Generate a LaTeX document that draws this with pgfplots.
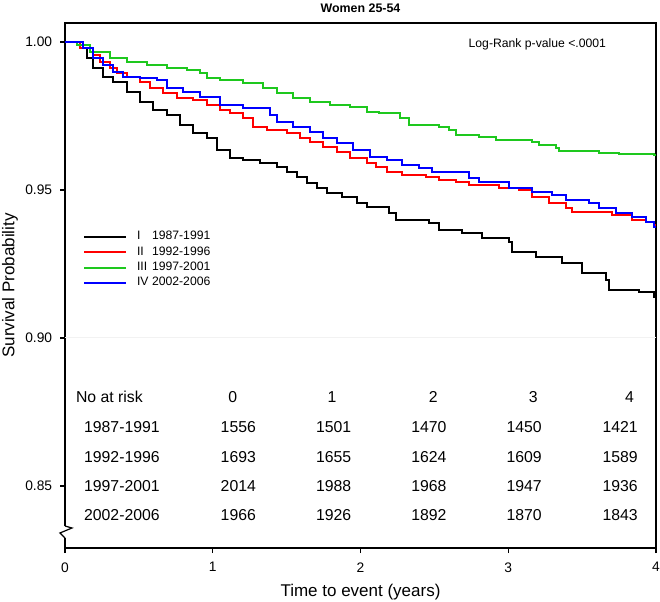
\documentclass[border=0pt]{standalone}
\usepackage{fontspec}
\setmainfont{Liberation Sans}
\usepackage{pgfplots}
\pgfplotsset{compat=1.18}
\definecolor{kmgreen}{RGB}{30,200,30}
\definecolor{kmred}{RGB}{255,0,0}
\definecolor{kmblue}{RGB}{0,0,255}
\newcommand\rt{\fontsize{7.9}{9}\selectfont}
\newcommand\lf{\fontsize{6.1}{7}\selectfont}
\begin{document}
\begin{tikzpicture}
\begin{axis}[
  scale only axis, width=295.5pt, height=262.5pt,
  xmin=0, xmax=4, ymin=0.82905, ymax=1.00642,
  xtick={0,1,2,3,4}, ytick={0.85,0.9,0.95,1},
  xtick pos=bottom, ytick pos=left,
  tick align=outside, major tick length=2.5pt,
  axis line style={line width=0.6pt},
  every tick/.style={black, line width=0.6pt},
  /pgf/number format/assume math mode=true,
  yticklabel={\pgfmathprintnumber[fixed,fixed zerofill,precision=2]{\tick}},
  tick label style={font=\fontsize{6.9}{8}\selectfont},
  yticklabel style={xshift=-0.4pt},
  xticklabel style={yshift=-1.2pt},
  xlabel={Time to event (years)}, ylabel={Survival Probability},
  label style={font=\fontsize{8.5}{10}\selectfont},
  xlabel style={at={(axis description cs:0.5,-0.0838)}, anchor=center},
  ylabel style={at={(axis description cs:-0.093,0.5)}, anchor=center},
  clip=false,
  legend style={at={(0.0305,0.607)}, anchor=north west, draw=none, fill=none,
    inner sep=0pt, outer sep=0pt, row sep=0pt, font=\lf,
    nodes={inner sep=0pt, minimum height=7.65pt},
    /tikz/every odd column/.append style={column sep=5pt}},
  legend cell align=left,
  legend image code/.code={\draw[#1] (0pt,0pt) -- (21pt,0pt);},
]
\draw[black!5, line width=0.5pt] (axis cs:0,0.9) -- (axis cs:4,0.9);

\addplot[const plot, black, line width=1pt] coordinates {
(0,1.0) (0.101,0.9980) (0.149,0.9946) (0.189,0.9912) (0.257,0.9882) (0.324,0.9865)
(0.419,0.9831) (0.507,0.9797) (0.595,0.9770) (0.689,0.9753) (0.777,0.9720) (0.865,0.9693)
(0.959,0.9676) (1.027,0.9635) (1.115,0.9608) (1.203,0.9601) (1.318,0.9591) (1.432,0.9578)
(1.500,0.9561) (1.568,0.9544) (1.635,0.9524) (1.703,0.9507) (1.770,0.9490) (1.878,0.9476)
(1.973,0.9456) (2.041,0.9443) (2.196,0.9422) (2.243,0.9399) (2.466,0.9389) (2.534,0.9365)
(2.689,0.9355) (2.824,0.9338) (3.007,0.9324) (3.027,0.9291) (3.189,0.9274) (3.365,0.9253)
(3.500,0.9220) (3.662,0.9196) (3.682,0.9162) (3.885,0.9155) (3.986,0.9139) (4.0,0.9139)
};
\addlegendentry{\makebox[7.5pt][l]{I}1987-1991}

\addplot[const plot, kmred, line width=1pt] coordinates {
(0,1.0) (0.101,0.9980) (0.189,0.9956) (0.236,0.9932) (0.304,0.9912) (0.351,0.9895)
(0.419,0.9882) (0.507,0.9865) (0.574,0.9845) (0.662,0.9828) (0.757,0.9811) (0.865,0.9804)
(0.959,0.9787) (1.047,0.9770) (1.115,0.9760) (1.203,0.9743) (1.270,0.9713) (1.365,0.9703)
(1.500,0.9693) (1.588,0.9676) (1.655,0.9662) (1.743,0.9645) (1.838,0.9628) (1.926,0.9608)
(2.041,0.9591) (2.108,0.9578) (2.176,0.9561) (2.284,0.9551) (2.446,0.9544) (2.534,0.9534)
(2.649,0.9527) (2.736,0.9517) (2.939,0.9507) (3.074,0.9500) (3.162,0.9476) (3.277,0.9456)
(3.392,0.9439) (3.432,0.9426) (3.703,0.9416) (3.838,0.9399) (3.932,0.9392) (3.986,0.9382)
(4.0,0.9382)
};
\addlegendentry{\makebox[7.5pt][l]{II}1992-1996}

\addplot[const plot, kmgreen, line width=1pt] coordinates {
(0,1.0) (0.081,0.9990) (0.169,0.9966) (0.304,0.9946) (0.419,0.9932) (0.554,0.9922)
(0.689,0.9912) (0.824,0.9905) (0.912,0.9895) (0.959,0.9878) (1.047,0.9872) (1.203,0.9861)
(1.338,0.9845) (1.432,0.9828) (1.541,0.9811) (1.655,0.9797) (1.791,0.9787) (1.926,0.9780)
(2.041,0.9764) (2.128,0.9760) (2.264,0.9743) (2.331,0.9720) (2.534,0.9713) (2.601,0.9703)
(2.649,0.9686) (2.804,0.9679) (2.919,0.9669) (3.162,0.9662) (3.209,0.9652) (3.324,0.9642)
(3.345,0.9632) (3.615,0.9625) (3.750,0.9622) (3.986,0.9618) (4.0,0.9618)
};
\addlegendentry{\makebox[7.5pt][l]{III}1997-2001}

\addplot[const plot, kmblue, line width=1pt] coordinates {
(0,1.0) (0.122,0.9980) (0.189,0.9946) (0.257,0.9922) (0.324,0.9899) (0.392,0.9882)
(0.507,0.9878) (0.622,0.9872) (0.689,0.9845) (0.797,0.9831) (0.912,0.9814) (1.047,0.9787)
(1.203,0.9777) (1.385,0.9753) (1.432,0.9730) (1.541,0.9713) (1.655,0.9696) (1.743,0.9676)
(1.838,0.9659) (1.946,0.9635) (2.061,0.9612) (2.176,0.9601) (2.284,0.9585) (2.399,0.9574)
(2.486,0.9561) (2.736,0.9541) (2.804,0.9527) (3.007,0.9507) (3.162,0.9493) (3.297,0.9483)
(3.392,0.9466) (3.547,0.9456) (3.615,0.9439) (3.730,0.9422) (3.838,0.9409) (3.932,0.9392)
(3.986,0.9375) (4.0,0.9375)
};
\addlegendentry{\makebox[7.5pt][l]{IV}2002-2006}

\node[font=\bfseries\fontsize{6.2}{7.5}\selectfont] at (rel axis cs:0.5,1.0286) {Women 25-54};
\node[font=\lf] at (rel axis cs:0.7992,0.96) {Log-Rank p-value <.0001};

% number at risk table
\node[font=\rt, anchor=west] at (axis cs:0.027,0.8801) {No at risk};
\node[font=\rt] at (axis cs:1.135,0.8801) {0};
\node[font=\rt] at (axis cs:1.807,0.8801) {1};
\node[font=\rt] at (axis cs:2.493,0.8801) {2};
\node[font=\rt] at (axis cs:3.170,0.8801) {3};
\node[font=\rt] at (axis cs:3.820,0.8801) {4};

\node[font=\rt] at (axis cs:0.385,0.8699) {1987-1991};
\node[font=\rt] at (axis cs:1.173,0.8699) {1556};
\node[font=\rt] at (axis cs:1.818,0.8699) {1501};
\node[font=\rt] at (axis cs:2.463,0.8699) {1470};
\node[font=\rt] at (axis cs:3.108,0.8699) {1450};
\node[font=\rt] at (axis cs:3.757,0.8699) {1421};

\node[font=\rt] at (axis cs:0.385,0.8598) {1992-1996};
\node[font=\rt] at (axis cs:1.173,0.8598) {1693};
\node[font=\rt] at (axis cs:1.818,0.8598) {1655};
\node[font=\rt] at (axis cs:2.463,0.8598) {1624};
\node[font=\rt] at (axis cs:3.108,0.8598) {1609};
\node[font=\rt] at (axis cs:3.757,0.8598) {1589};

\node[font=\rt] at (axis cs:0.385,0.8500) {1997-2001};
\node[font=\rt] at (axis cs:1.173,0.8500) {2014};
\node[font=\rt] at (axis cs:1.818,0.8500) {1988};
\node[font=\rt] at (axis cs:2.463,0.8500) {1968};
\node[font=\rt] at (axis cs:3.108,0.8500) {1947};
\node[font=\rt] at (axis cs:3.757,0.8500) {1936};

\node[font=\rt] at (axis cs:0.385,0.8402) {2002-2006};
\node[font=\rt] at (axis cs:1.173,0.8402) {1966};
\node[font=\rt] at (axis cs:1.818,0.8402) {1926};
\node[font=\rt] at (axis cs:2.463,0.8402) {1892};
\node[font=\rt] at (axis cs:3.108,0.8402) {1870};
\node[font=\rt] at (axis cs:3.757,0.8402) {1843};

\coordinate (z0) at (rel axis cs:0,0.0419);
\coordinate (z1) at (rel axis cs:0.0118,0.0381);
\coordinate (z2) at (rel axis cs:-0.0085,0.0286);
\coordinate (z3) at (rel axis cs:0,0.019);
\coordinate (wa) at (rel axis cs:-0.004,0.019);
\coordinate (wb) at (rel axis cs:0.004,0.0419);
\coordinate (bbsw) at (rel axis cs:-0.1100,-0.10095);
\coordinate (bbne) at (rel axis cs:1.00677,1.04381);
\end{axis}
\fill[white] (wa) rectangle (wb);
\draw[line width=0.6pt] (z0) -- (z1) -- (z2) -- (z3);
\pgfresetboundingbox
\useasboundingbox (bbsw) rectangle (bbne);
\end{tikzpicture}
\end{document}
